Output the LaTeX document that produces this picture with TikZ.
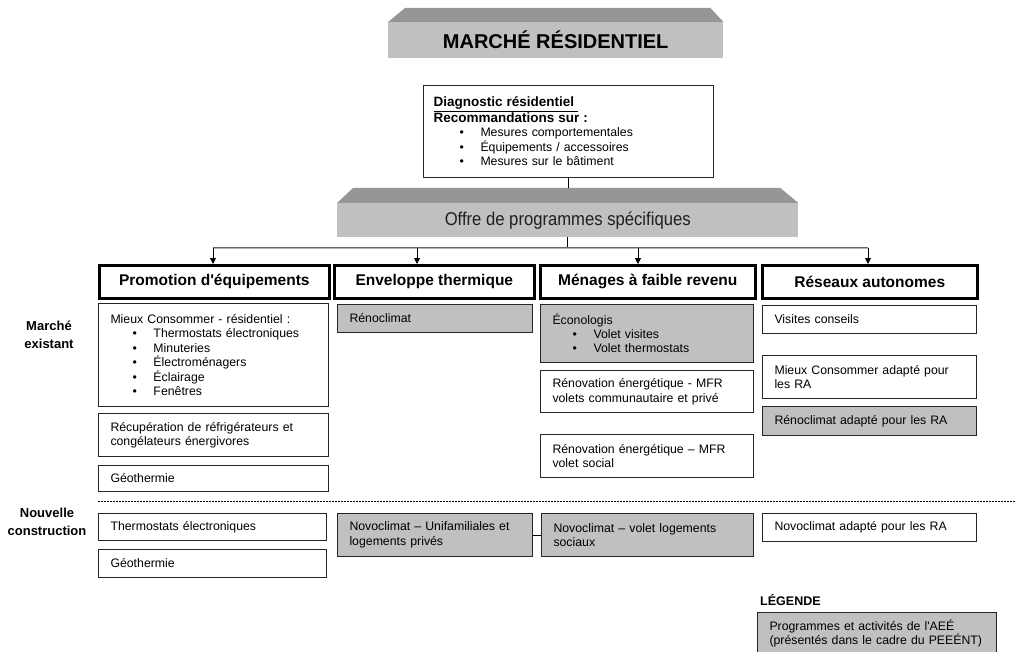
\documentclass[tikz,border=0pt]{standalone}
\usepackage{fontspec}
\setmainfont{Liberation Sans}
\newfontfamily\narrowfont[FakeStretch=0.9]{Liberation Sans}
\newfontfamily\droitfont[Ligatures=ResetAll]{Liberation Sans}
\usetikzlibrary{positioning,arrows.meta}

\definecolor{boxgray}{HTML}{C0C0C0}
\definecolor{topgray}{HTML}{969696}

\newcommand\puce[2][22pt]{\hspace*{#1}\makebox[21pt][l]{\textbullet}#2}
\newcommand\apos{{\droitfont'}}

\tikzset{
	box/.style={draw=black!85,line width=1pt,fill=white,anchor=north west,inner xsep=12pt,inner ysep=0pt,align=left,font=\fontsize{12.3}{14.5}\selectfont},
	grisbox/.style={box,fill=boxgray},
	head/.style={draw,line width=2.6pt,anchor=north west,inner sep=0pt,minimum height=33pt,font=\fontsize{15.5}{17}\selectfont\bfseries},
	banner/.style={fill=boxgray,anchor=north west,inner sep=0pt},
	bantop/.style={fill=topgray},
	lbl/.style={align=center,font=\fontsize{13}{18.5}\selectfont\bfseries},
	fil/.style={line width=1pt},
	arr/.style={line width=1pt,-{Triangle[length=6pt,width=6pt]}},
	bus/.style={draw=black!60,double=black!30,double distance=0.8pt,line width=0.8pt},
	pointille/.style={line width=0.8pt,dash pattern=on 2pt off 1pt},
}

\begin{document}
\begin{tikzpicture}[x=1pt,y=-1pt]
	\useasboundingbox (0,0) rectangle (1016,652);
	%% titre
	\node[banner,minimum width=335pt,minimum height=36pt,font=\fontsize{20}{22}\selectfont\bfseries] (titre) at (388,22) {MARCHÉ RÉSIDENTIEL};
	\fill[bantop] (titre.north west) -- ++(17pt,14pt) -- ([shift={(-13pt,14pt)}]titre.north east) -- (titre.north east) -- cycle;
	%% diagnostic
	\node[box,text width=270pt,inner xsep=10pt,minimum height=92pt] (diag) at (423,85) {%
		{\fontsize{13.5}{15}\selectfont\bfseries\underline{Diagnostic résidentiel\ }\\Recommandations sur :}\\
		\puce[26pt]{Mesures comportementales}\\
		\puce[26pt]{Équipements / accessoires}\\
		\puce[26pt]{Mesures sur le bâtiment}};
	%% offre
	\node[banner,minimum width=461pt,minimum height=34pt,text=black!88,font=\narrowfont\fontsize{18.5}{20}\selectfont] (offre) at (337,203) {Offre de programmes spécifiques};
	\fill[bantop] (offre.north west) -- ++(16pt,15pt) -- ([shift={(-18pt,15pt)}]offre.north east) -- (offre.north east) -- cycle;
	\coordinate (otop) at ([yshift=15pt]offre.north);
	\draw[fil] (diag.south) -- (diag.south |- otop);

	%% en-tetes
	\node[head,minimum width=230pt] (h1) at (98,264) {Promotion d\apos équipements};
	\node[head,minimum width=200pt] (h2) at (333,264) {Enveloppe thermique};
	\node[head,minimum width=215pt] (h3) at (539,264) {Ménages à faible revenu};
	\node[head,minimum width=215pt] (h4) at (761,264) {Réseaux autonomes};

	% barre et fleches
	\coordinate (bus1) at (213,248);
	\coordinate (bus2) at (417,248);
	\coordinate (bus3) at (638,248);
	\coordinate (bus4) at (868,248);
	\draw[fil] (offre.south) -- (offre.south |- bus1);
	\draw[bus] (bus1) -- (bus4);
	\foreach \i in {1,...,4}
		\draw[arr] (bus\i) -- (bus\i |- h\i.north);

	%% promotion
	\node[box,text width=206pt,minimum height=103pt] (p1) at (98,303) {%
		Mieux Consommer - résidentiel :\\
		\puce{Thermostats électroniques}\\
		\puce{Minuteries}\\
		\puce{Électroménagers}\\
		\puce{Éclairage}\\
		\puce{Fenêtres}};
	\node[box,text width=206pt,minimum height=43pt,below=6pt of p1.south west,anchor=north west] (p2) {Récupération de réfrigérateurs et\\congélateurs énergivores};
	\node[box,text width=206pt,minimum height=26pt,below=8pt of p2.south west,anchor=north west] (p3) {Géothermie};
	\node[box,text width=204pt,minimum height=27pt] (p4) at (98,513) {Thermostats électroniques};
	\node[box,text width=204pt,minimum height=28pt,below=8pt of p4.south west,anchor=north west] (p5) {Géothermie};

	%% enveloppe
	\node[grisbox,text width=171pt,minimum height=28pt] (e1) at (337,304) {Rénoclimat};
	\node[grisbox,text width=171pt,minimum height=43pt] (e2) at (337,513) {Novoclimat – Unifamiliales et\\logements privés};

	%% menages
	\node[grisbox,text width=189pt,minimum height=58pt,font=\fontsize{12.3}{14}\selectfont] (m1) at (540,304) {%
		Éconologis\\
		\puce[20pt]{Volet visites}\\
		\puce[20pt]{Volet thermostats}};
	\node[box,text width=189pt,minimum height=42pt,below=7pt of m1.south west,anchor=north west] (m2) {Rénovation énergétique - MFR\\volets communautaire et privé};
	\node[box,text width=189pt,minimum height=43pt,below=21pt of m2.south west,anchor=north west] (m3) {Rénovation énergétique – MFR\\volet social};
	\node[grisbox,text width=188pt,minimum height=43pt] (m4) at (541,513) {Novoclimat – volet logements\\sociaux};
	\draw[fil] (e2.east) -- (m4.west);

	%% reseaux
	\node[box,text width=190pt,minimum height=28pt] (r1) at (762,305) {Visites conseils};
	\node[box,text width=190pt,minimum height=43pt,below=21pt of r1.south west,anchor=north west] (r2) {Mieux Consommer adapté pour\\les RA};
	\node[grisbox,text width=190pt,minimum height=29pt,below=7pt of r2.south west,anchor=north west] (r3) {Rénoclimat adapté pour les RA};
	\node[box,text width=190pt,minimum height=28pt] (r4) at (762,513) {Novoclimat adapté pour les RA};

	%% marches
	\node[lbl] (exist) at (49,335) {Marché\\existant};
	\node[lbl] (neuf) at (47,522) {Nouvelle\\construction};
	\coordinate (dashL) at (98,501);
	\coordinate (dashR) at (1015,501);
	\draw[pointille] (dashL) -- (dashR);

	%% legende
	\node[anchor=west,inner sep=0pt,font=\fontsize{12.5}{14}\selectfont\bfseries] (legt) at (760,600) {LÉGENDE};
	\node[grisbox,text width=215pt,minimum height=42pt] (leg) at (757,612) {Programmes et activités de l\apos AEÉ\\(présentés dans le cadre du PEEÉNT)};
\end{tikzpicture}
\end{document}
